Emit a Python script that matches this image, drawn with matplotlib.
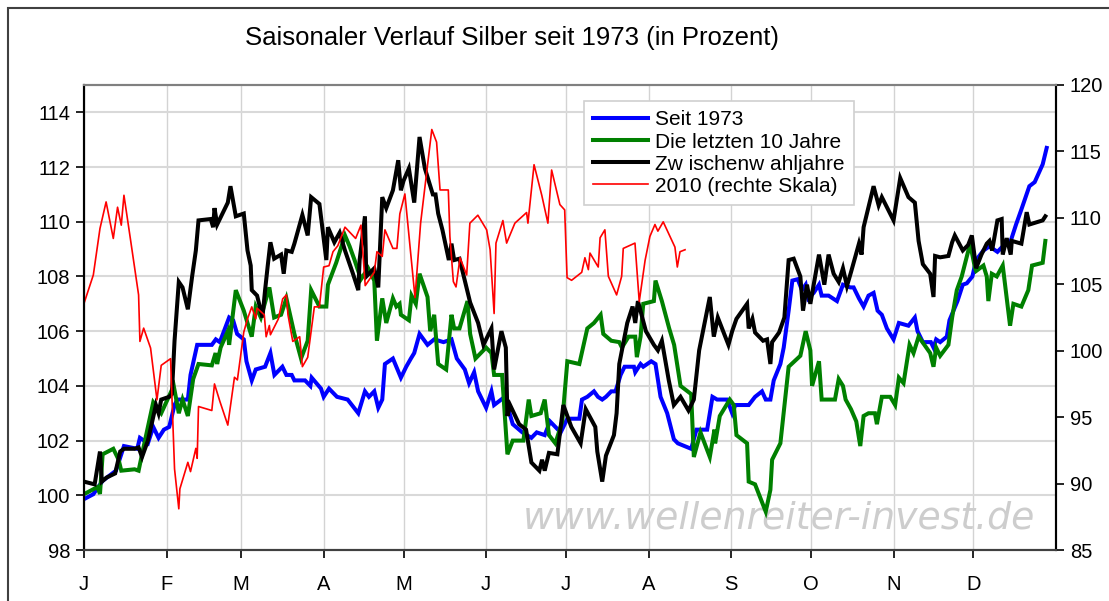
import numpy as np
import matplotlib.pyplot as plt
from matplotlib.patches import Rectangle

plt.rcParams['font.family'] = ['Liberation Sans', 'DejaVu Sans']

# Tag im Jahr (0 = 1. Januar) und Wert in Prozent
seit1973_tag = [0, 3.5, 7, 12, 15, 20, 21, 24, 26, 28, 30, 32, 34, 35, 39, 40, 42.5, 48, 49.5, 51, 54.5, 56, 57.5, 60, 61, 63, 64.5, 68, 70, 71.5, 74.5, 76, 78, 79, 83, 85, 85.5, 89, 90, 92, 95, 99, 103, 105.5, 107, 109, 110.5, 112, 113, 116, 119, 121,
                122.75, 124, 126, 129, 131.5, 135, 138, 140, 143, 144.6, 146.5, 148, 151, 153, 154, 158, 161, 164.6, 168, 170, 173, 175, 179, 181.5, 186, 187, 189, 191.5, 193, 194.6, 196, 198, 199.6, 201.5, 203, 206.5, 207, 209, 210, 213, 214.6, 216.5, 219, 221.5, 223, 228, 230, 234, 236, 237.75, 241.5,
                243.4, 244.6, 249.6, 252, 254.6, 256, 257.75, 259, 261.5, 262.75, 264.6, 266, 268, 269.6, 271, 272, 274, 276, 277, 279.6, 282.75, 285, 287.75, 289, 291, 292.75, 294.6, 296.5, 298, 299.6, 301.5, 304, 306, 309.6, 312, 313, 315, 318, 319, 320, 321.5, 324, 325, 328, 330, 331.5, 333.6, 335, 337.75, 340, 343, 346, 348, 350, 352, 355, 357, 360, 361.5]
seit1973 = [99.86, 100.04, 100.53, 100.9, 101.8, 101.7, 102.1, 101.9, 102.5, 102.1, 102.4, 102.5, 103.3, 103.5, 103.5, 104.4, 105.5, 105.5, 105.7, 105.6, 106.5, 106.4, 105.9, 105.7, 104.9, 104.2, 104.6, 104.7, 105.2, 104.4, 104.7, 104.4, 104.4, 104.2, 104.2, 104.0, 104.3, 103.9, 103.6, 103.9, 103.6, 103.5, 103.0, 103.8, 103.6, 103.8, 103.2, 103.5, 104.8, 105.0, 104.3, 104.7,
            105.0, 105.2, 105.9, 105.5, 105.7, 105.6, 105.7, 105.0, 104.6, 104.1, 104.5, 103.8, 103.2, 103.8, 103.3, 103.6, 102.6, 102.3, 102.1, 102.3, 102.2, 102.7, 102.3, 102.8, 102.8, 103.5, 103.6, 103.8, 103.6, 103.5, 103.6, 103.8, 103.8, 104.4, 104.7, 104.7, 104.5, 104.8, 104.7, 104.9, 104.8, 103.6, 103.0, 102.05, 101.9, 101.7, 102.4, 102.4, 103.6, 103.5, 103.5,
            103.0, 103.3, 103.3, 103.6, 103.8, 103.5, 103.5, 104.2, 104.8, 105.4, 106.75, 107.85, 107.9, 107.5, 107.7, 107.2, 107.4, 107.7, 107.3, 107.3, 107.1, 107.7, 107.6, 107.6, 107.2, 106.9, 107.3, 107.4, 106.75, 106.6, 106.1, 105.7, 106.3, 106.2, 106.5, 106.0, 105.6, 105.6, 105.4, 105.7, 105.6, 105.8, 106.4, 107.1, 107.7, 107.75, 108.0, 108.6, 108.95, 109.1, 108.9, 109.2, 109.3, 109.9, 110.45, 111.3, 111.45, 112.1, 112.7]

zehn_tag = [0, 5, 6, 7, 11, 13, 14, 19, 20.5, 22, 26, 29, 33.7, 35.6, 37, 39, 41, 43, 48, 49.4, 50, 51.3, 54, 54.5, 57, 60, 61.4, 63, 64.5, 66.4, 69.6, 71.4, 74, 76, 79, 81.5, 84, 85.3, 88.4, 91, 91.6, 94.7, 98, 99.75, 101.6, 104, 106.7, 109, 110, 112, 113.5, 116, 117.3, 118.5, 119,
            122, 123, 124.6, 126, 129, 130, 131.5, 133, 136, 138, 139, 141, 144, 145, 147, 151, 153, 154, 157, 159, 161, 165, 167, 168, 171.5, 173, 174.6, 177, 179.6, 181.5, 186, 189, 191.5, 194, 195, 198, 201, 202, 204.5, 207, 207.6, 209, 210, 214, 214.6, 217, 219.75, 221.6, 224, 228, 229, 231.5, 235, 236.75, 237, 238.75, 242.5,
            244, 245, 249, 249.6, 252, 256, 257.75, 258.4, 261.5, 263.4, 264.6, 269, 271, 272.75, 273.4, 276, 277, 282, 283.4, 285, 286, 288, 290, 291.5, 292.75, 294.6, 297, 297.75, 299.6, 302.75, 304.6, 306, 307.75, 310, 311.5, 313.4, 317.75, 319, 320, 321.5, 324.6, 326, 327.75, 329.6, 332.75, 334.6, 335, 337.75, 339, 339.6, 340.9, 342.75, 345, 347.75, 349, 352, 354.6, 356, 360, 361]
zehn_jahre = [100.04, 100.3, 100.05, 101.5, 101.7, 101.3, 100.9, 100.95, 100.9, 101.6, 103.4, 103.0, 104.0, 103.0, 103.5, 102.9, 104.25, 104.8, 104.75, 105.2, 104.8, 105.4, 106.0, 105.5, 107.5, 106.75, 106.3, 105.8, 106.9, 106.5, 107.6, 106.5, 106.6, 107.2, 105.9, 105.0, 105.65, 107.5, 106.9, 106.9, 107.7, 108.5, 109.5, 109.1, 108.6, 107.9, 108.3, 107.85, 105.65, 107.2, 106.3, 107.2, 106.9, 107.0, 106.6,
              106.4, 107.3, 107.0, 108.1, 107.25, 106.0, 106.6, 104.8, 104.6, 106.6, 106.1, 106.1, 107.1, 105.9, 105.0, 105.4, 105.2, 104.4, 104.4, 101.5, 102.0, 102.0, 103.5, 102.9, 103.0, 103.5, 102.2, 101.9, 102.7, 104.9, 104.8, 106.1, 106.3, 106.6, 105.9, 105.65, 105.6, 105.4, 105.8, 105.8, 105.05, 105.8, 107.0, 107.1, 107.85, 107.1, 106.1, 105.5, 104.0, 103.7, 101.4, 102.3, 101.4, 102.4, 101.9, 102.9, 103.5,
              103.3, 102.2, 101.9, 100.5, 100.4, 99.4, 100.2, 101.3, 101.9, 103.6, 104.7, 105.1, 106.0, 105.3, 104.0, 104.9, 103.5, 103.5, 104.25, 104.0, 103.5, 103.15, 102.7, 101.8, 102.9, 103.0, 103.0, 102.6, 103.6, 103.6, 103.3, 104.3, 104.1, 105.5, 105.2, 105.8, 105.2, 104.7, 105.4, 105.1, 105.5, 106.5, 107.5, 108.0, 109.2, 108.3, 108.2, 108.4, 108.0, 107.1, 108.1, 108.0, 108.4, 106.2, 107.0, 106.9, 107.5, 108.4, 108.5, 109.3]

wahl_tag = [0, 4, 6, 6.7, 8.5, 11.7, 13.6, 15, 19, 20.5, 21.8, 24, 27, 28, 29, 32, 33, 34, 35.6, 37, 39, 40.6, 42, 43, 47.6, 48.5, 49, 50, 54, 55, 57, 60, 61.4, 62.6, 63, 65, 67, 68, 69, 70, 71.4, 74, 75, 76, 78, 79, 82, 84, 85.3, 88.4, 91, 91.6, 94, 96, 98, 101, 103, 103.5, 105.5, 106, 109, 110.5, 112, 113.5, 116, 118, 119,
            120, 122, 124, 126, 128, 131, 132, 133, 134.6, 137, 138, 139, 141, 143, 145, 148, 150, 153, 154, 156.75, 158.4, 159, 160, 163.4, 166, 168, 171, 172, 173, 174.6, 177.75, 180, 183, 186.5, 188.4, 192, 192.75, 194.6, 196, 199, 200, 201, 204, 206, 207, 208, 211, 214, 215.5, 217, 219.6, 221.5, 224, 227, 229, 231, 235, 236.5, 238,
            240, 242, 243.4, 245, 249, 249.6, 251, 252, 255, 256.5, 257.75, 258.4, 261, 263, 264.6, 266.5, 269, 270, 271.5, 272.75, 276, 278, 279.6, 281.5, 283.4, 285, 286.5, 288, 291, 292, 292.75, 296.5, 298.4, 299.6, 304, 306.5, 309.6, 312, 313.4, 315, 317.75, 319, 319.6, 321.5, 324.6, 326, 327, 330, 332, 333.4, 335, 337, 339, 340, 341, 343, 344.6, 345, 346.5, 348, 348.4, 352, 354, 355, 360, 361]
wahljahre = [100.5, 100.4, 101.6, 100.5, 100.65, 100.8, 101.6, 101.7, 101.7, 101.75, 101.4, 102.0, 103.3, 103.0, 103.5, 103.6, 103.7, 105.65, 107.8, 107.6, 106.8, 108.0, 108.95, 110.05, 110.1, 109.8, 110.5, 109.9, 110.7, 111.3, 110.2, 110.3, 108.95, 108.4, 107.5, 107.3, 106.5, 107.5, 108.4, 109.25, 108.65, 108.8, 108.1, 108.95, 108.9, 109.2, 110.25, 109.5, 110.9, 110.65, 108.6, 109.8, 109.25, 109.6, 108.95, 108.1, 107.5, 108.6, 110.2, 108.0, 108.3, 107.6, 110.9, 110.5, 111.15, 112.25, 111.15,
             111.5, 111.95, 110.7, 113.1, 111.95, 111.0, 111.0, 110.3, 109.7, 108.6, 109.2, 108.6, 108.65, 107.85, 107.05, 106.3, 105.5, 106.1, 104.6, 106.0, 105.4, 102.9, 103.3, 102.6, 102.4, 101.2, 100.9, 101.3, 100.9, 101.55, 101.5, 103.3, 102.5, 101.9, 103.15, 102.5, 101.6, 100.5, 101.45, 102.2, 103.0, 104.8, 106.3, 106.9, 106.3, 107.1, 106.0, 105.5, 105.3, 105.65, 104.2, 103.3, 103.6, 103.1, 103.5, 105.3, 107.25, 105.8, 106.5,
             106.0, 105.5, 106.0, 106.45, 107.0, 106.1, 106.45, 105.95, 105.65, 105.7, 104.8, 105.6, 105.95, 106.5, 108.6, 108.65, 108.0, 106.75, 107.7, 107.0, 108.8, 107.7, 108.8, 108.1, 107.8, 108.3, 107.65, 108.15, 109.2, 108.8, 109.8, 111.3, 110.6, 110.9, 110.05, 111.6, 110.9, 110.7, 109.3, 108.45, 108.1, 107.25, 108.75, 108.7, 108.75, 109.25, 109.5, 108.95, 109.15, 109.5, 108.3, 108.8, 109.2, 109.3, 108.95, 110.05, 110.1, 108.8, 109.4, 108.8, 109.3, 109.2, 110.35, 109.9, 110.05, 110.2]

jahr2010_tag = [0, 3.5, 6, 8.3, 11, 12.6, 14, 15, 17.4, 20.5, 21, 22.4, 25, 27.4, 29, 32.5, 34, 35.6, 36, 39, 40, 42, 42.5, 43, 48, 49, 51, 54, 56.5, 57.6, 60, 61.4, 63, 64.5, 65, 67.7, 68.4, 69.6, 70, 73, 74.6, 76, 76.6, 78.4, 81, 82, 84, 86.5, 88.4, 90, 92, 93.5, 95.3, 98, 102, 104, 105.6, 109, 110, 112, 113, 116, 117.5, 118.6, 120.5,
                124.3, 126.4, 130.6, 132.4, 133.7, 136.8, 137.4, 138.7, 139.7, 141.2, 143.7, 144.9, 147.9, 151.2, 152.5, 154.0, 154.7, 157.3, 158.7, 161.8, 166.2, 166.7, 169.0, 171.9, 174.2, 175.6, 178.7, 180.5, 181.4, 183.1, 186.9, 188.1, 189.4, 190.0, 193.1, 193.8, 195.6, 196.9, 200.0, 201.9, 202.5,
                206.9, 208.5, 210.7, 212.5, 214.4, 215.5, 217.5, 221.9, 222.8, 223.8, 225.7]
jahr2010 = [103.56, 105.7, 109.2, 111.2, 108.45, 110.8, 109.45, 111.7, 108.45, 104.2, 100.7, 101.7, 100.2, 96.3, 98.9, 99.4, 91.1, 88.1, 89.6, 91.6, 90.9, 92.65, 91.9, 95.8, 95.5, 97.5, 96.2, 94.4, 98.0, 97.8, 101.4, 102.4, 103.3, 102.4, 103.2, 102.7, 101.05, 101.9, 101.2, 102.4, 103.9, 104.2, 102.7, 100.7, 101.05, 98.8, 99.5, 103.3, 103.3, 106.3, 106.4, 107.45, 107.9, 109.3, 108.45, 109.45, 104.9, 105.9, 107.45, 107.1, 109.1, 107.7, 107.7, 110.3, 111.8,
            104.0, 109.6, 116.65, 115.7, 112.1, 112.1, 108.6, 105.2, 104.8, 107.0, 105.7, 109.6, 110.2, 109.1, 107.6, 102.8, 108.1, 109.8, 108.1, 109.6, 110.4, 109.6, 114.0, 111.7, 109.6, 113.6, 111.0, 110.6, 105.5, 105.3, 105.9, 107.0, 106.1, 107.35, 106.3, 108.5, 109.1, 105.6, 104.2, 105.6, 107.7,
            108.1, 103.7, 106.8, 108.6, 109.5, 109.0, 109.7, 107.8, 106.3, 107.45, 107.6]

monat_start = [0, 31, 59, 90, 120, 151, 181, 212, 243, 273, 304, 334]
monate = ['J', 'F', 'M', 'A', 'M', 'J', 'J', 'A', 'S', 'O', 'N', 'D']

fig = plt.figure(figsize=(11.09, 6.01), dpi=100)
ax = fig.add_axes([84/1109, 1 - 550/601, 972/1109, 465/601])
ax2 = ax.twinx()

# Rahmen um das ganze Diagramm
fig.patches.append(Rectangle((8/1109, -0.1), 1.2, 1.1 - 8/601, transform=fig.transFigure,
                             fill=False, edgecolor='#404040', lw=1.5))

# Titel sitzt etwas links von der Mitte der Achsen
fig.text(512/1109, 1 - 38/601, 'Saisonaler Verlauf Silber seit 1973 (in Prozent)',
         fontsize=18.5, ha='center', va='center')

l1, = ax.plot(seit1973_tag, seit1973, color='#0000ff', lw=2.9, label='Seit 1973', solid_joinstyle='miter')
l2, = ax.plot(zehn_tag, zehn_jahre, color='#008000', lw=2.9, label='Die letzten 10 Jahre', solid_joinstyle='miter')
l3, = ax.plot(wahl_tag, wahljahre, color='#000000', lw=2.9, label='Zw ischenw ahljahre', solid_joinstyle='miter')
l4, = ax2.plot(jahr2010_tag, jahr2010, color='#ff0000', lw=1.2, label='2010 (rechte Skala)')

ax.set_xlim(0, 365)
ax.set_ylim(98, 115)
ax2.set_ylim(85, 120)
ax.set_yticks(np.arange(98, 115, 2))
ax2.set_yticks(np.arange(85, 121, 5))
ax.set_xticks(monat_start)
ax.set_xticklabels(monate)

ax.grid(axis='y', color='#d9d9d9', lw=1.5)
ax.grid(axis='x', color='#d3d3d3', lw=1.0)
ax.set_axisbelow(True)

ax.tick_params(axis='x', direction='out', length=6, width=1.2, pad=12, labelsize=14.5)
ax.tick_params(axis='y', direction='out', length=6, width=1.2, pad=4, labelsize=14.5)
ax2.tick_params(axis='y', direction='out', length=6, width=1.2, pad=4, labelsize=14.5)

for a in (ax, ax2):
    a.spines['left'].set_color('black')
    a.spines['right'].set_color('black')
    a.spines['bottom'].set_color('#404040')
    a.spines['top'].set_color('#808080')
    for s in a.spines.values():
        s.set_linewidth(1.5)

ax.text(0.979, 0.047, 'www.wellenreiter-invest.de', transform=ax.transAxes, ha='right', va='baseline',
        fontsize=27.2, style='italic', color='#cdcdcd', family='DejaVu Sans', zorder=1)

leg = ax2.legend(handles=[l1, l2, l3, l4], loc='upper left', bbox_to_anchor=(500/972, 1 - 16/465),
                 fontsize=15, frameon=True, fancybox=False, framealpha=1, edgecolor='#d0d0d0',
                 handlelength=2.6, handletextpad=0.35, labelspacing=0.15, borderpad=0.45, borderaxespad=0)
leg.get_frame().set_linewidth(1.2)

plt.savefig('out.png', dpi=100)
